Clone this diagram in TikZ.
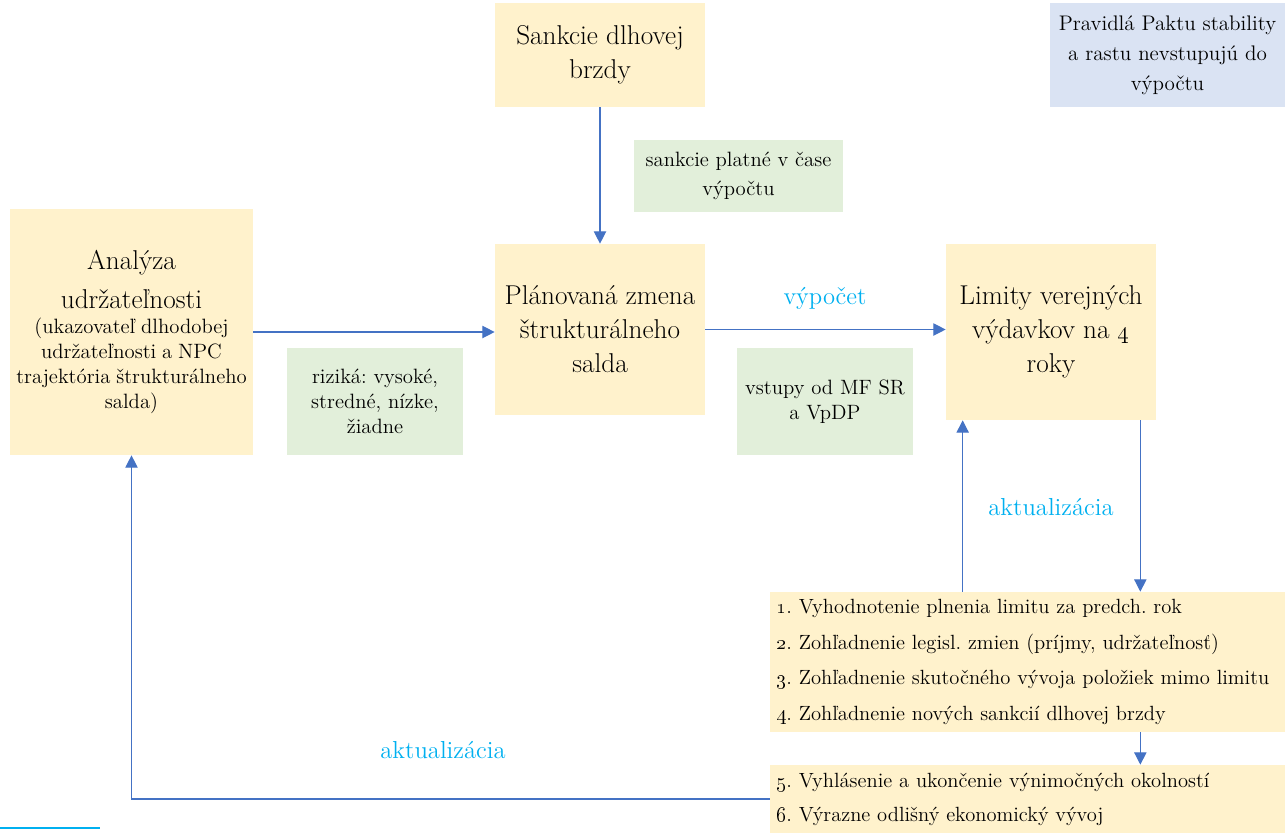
\documentclass[tikz,border=0pt]{standalone}
\usetikzlibrary{arrows.meta}

\definecolor{boxyellow}{HTML}{FFF2CC}
\definecolor{boxgreen}{HTML}{E2EFDA}
\definecolor{boxblue}{HTML}{DAE3F3}
\definecolor{arrowblue}{HTML}{4472C4}
\definecolor{labelcyan}{HTML}{00B0F0}

\newcommand{\bigsize}{\fontsize{15.5}{19.3}\selectfont}
\newcommand{\smallsize}{\fontsize{11.8}{14.2}\selectfont}
\newcommand{\listsize}{\fontsize{11.7}{20.4}\selectfont}
\frenchspacing

\begin{document}
\begin{tikzpicture}[x=0.02cm, y=-0.02cm,
    yellowbox/.style={fill=boxyellow, inner sep=2pt, align=center, font=\bigsize},
    greenbox/.style={fill=boxgreen, inner sep=2pt, align=center, font=\smallsize},
    listbox/.style={fill=boxyellow, inner xsep=0.12cm, minimum width=10.3cm,
        text width=10.06cm, align=left, font=\listsize},
    flow/.style={arrowblue, line width=0.7pt, -{Triangle[length=7pt, width=7pt]}},
    steplabel/.style={labelcyan, font=\fontsize{14}{16}\selectfont}]

    \useasboundingbox (0,0) rectangle (1285,833);

    % Top row
    \node[yellowbox, minimum width=4.2cm, minimum height=2.08cm] (brzda) at (600,55)
        {Sankcie dlhovej\\ brzdy};
    \node[greenbox, minimum width=4.18cm, minimum height=1.44cm,
        font=\fontsize{11.8}{16.4}\selectfont] (platne) at (738.5,176)
        {sankcie platné v čase\\ výpočtu};
    \node[fill=boxblue, inner sep=2pt, align=center, minimum width=4.7cm, minimum height=2.08cm,
        font=\fontsize{12}{17}\selectfont] (pakt) at (1167.5,55)
        {Pravidlá Paktu stability\\ a rastu nevstupujú do\\ výpočtu};

    % Middle row
    \node[fill=boxyellow, minimum width=4.86cm, minimum height=4.92cm, text width=4.7cm,
        inner sep=2pt, align=center] (analyza) at (131.5,332)
        {{\fontsize{15.5}{22}\selectfont Analýza\\ udržateľnosti\par}%
         {\smallsize (ukazovateľ dlhodobej\\ udržateľnosti a NPC\\
          trajektória štrukturálneho\\ salda)\par}};
    \node[greenbox, minimum width=3.52cm, minimum height=2.14cm] (rizika) at (375,401.5)
        {riziká: vysoké,\\ stredné, nízke,\\ žiadne};
    \node[yellowbox, minimum width=4.2cm, minimum height=3.42cm] (zmena) at (600,329.5)
        {Plánovaná zmena\\ štrukturálneho\\ salda};
    \node[greenbox, minimum width=3.52cm, minimum height=2.14cm] (vstupy) at (825,401.5)
        {vstupy od MF SR\\ a VpDP};
    \node[yellowbox, minimum width=4.2cm, minimum height=3.52cm] (limity) at (1051,332)
        {Limity verejných\\ výdavkov na \oldstylenums{4}\\ roky};

    % Update steps
    \node[listbox, minimum height=2.8cm] (kroky1) at (1027.5,662)
        {\oldstylenums{1}. Vyhodnotenie plnenia limitu za predch. rok\\
         \oldstylenums{2}. Zohľadnenie legisl. zmien (príjmy, udržateľnosť)\\
         \oldstylenums{3}. Zohľadnenie skutočného vývoja položiek mimo limitu\\
         \oldstylenums{4}. Zohľadnenie nových sankcií dlhovej brzdy};
    \node[listbox, minimum height=1.36cm, font=\fontsize{11.7}{19.3}\selectfont] (kroky2) at (1027.5,799)
        {\oldstylenums{5}. Vyhlásenie a ukončenie výnimočných okolností\\
         \oldstylenums{6}. Výrazne odlišný ekonomický vývoj};

    % Labels
    \node[steplabel] (vypocet) at (825,298) {výpočet};
    \node[steplabel] (aktual1) at (1051,507) {aktualizácia};
    \node[steplabel] (aktual2) at (443,750) {aktualizácia};

    % Connectors
    \draw[flow] (brzda.south) -- (zmena.north);
    \draw[flow] (analyza.east) -- (analyza.east -| zmena.west);
    \draw[flow] (zmena.east) -- (zmena.east -| limity.west);
    \draw[flow] ([xshift=-0.32cm]limity.south east) -- ([xshift=-0.32cm]limity.south east |- kroky1.north);
    \draw[flow] ([xshift=0.34cm]limity.south west |- kroky1.north) -- ([xshift=0.34cm]limity.south west);
    \draw[flow] ([xshift=-0.32cm]limity.south east |- kroky1.south) -- ([xshift=-0.32cm]limity.south east |- kroky2.north);
    \draw[flow] (kroky2.west) -| (analyza.south);

    % stray mark at the bottom
    \draw[labelcyan, line width=1.5pt] (0,828) -- (100,828);
\end{tikzpicture}
\end{document}
